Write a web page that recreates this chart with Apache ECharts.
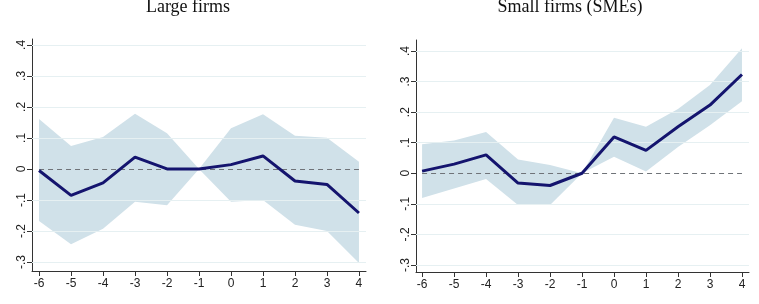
<!DOCTYPE html>
<html>
<head>
<meta charset="utf-8">
<script src="https://cdn.jsdelivr.net/npm/echarts@6/dist/echarts.min.js"></script>
<style>
  html, body { margin: 0; padding: 0; background: #fff; }
  #chart { width: 759px; height: 304px; }
</style>
</head>
<body>
<div id="chart"></div>
<script>
// event time (periods relative to treatment)
var periods = [-6, -5, -4, -3, -2, -1, 0, 1, 2, 3, 4];
var yTicks = [-0.3, -0.2, -0.1, 0, 0.1, 0.2, 0.3, 0.4];

// Large firms: point estimates and 95% CI
var largeCoef  = [-0.005, -0.085, -0.045, 0.038, 0.000, 0, 0.014, 0.042, -0.039, -0.050, -0.142];
var largeUpper = [0.161, 0.074, 0.103, 0.178, 0.115, 0, 0.131, 0.176, 0.107, 0.101, 0.023];
var largeLower = [-0.168, -0.243, -0.193, -0.106, -0.117, 0, -0.106, -0.100, -0.180, -0.200, -0.303];

// Small firms (SMEs)
var smallCoef  = [0.007, 0.030, 0.060, -0.032, -0.040, 0, 0.119, 0.075, 0.152, 0.223, 0.323];
var smallUpper = [0.095, 0.107, 0.135, 0.045, 0.027, 0, 0.182, 0.152, 0.210, 0.289, 0.409];
var smallLower = [-0.081, -0.050, -0.019, -0.104, -0.104, 0, 0.054, 0.006, 0.086, 0.157, 0.236];

var lineColor = '#14146e';
var bandColor = '#d0e1e9';

function pairs(ys) {
    return periods.map(function (x, i) { return [x, ys[i]]; });
}
function stataLabel(v) {
    if (Math.abs(v) < 1e-9) return '0';
    return (v < 0 ? '-' : '') + Math.abs(v).toFixed(1).replace(/^0/, '');
}

function xAxisFor(idx, min, max) {
    return {
        type: 'value', gridIndex: idx, min: min, max: max,
        axisLine: {show: true, onZero: false, lineStyle: {color: '#333', width: 1}},
        axisTick: {show: true, length: 5, customValues: periods, lineStyle: {color: '#333'}},
        axisLabel: {customValues: periods, color: '#222', fontSize: 12, margin: 7,
                    fontFamily: 'Liberation Sans'},
        splitLine: {show: false}
    };
}
function yAxisFor(idx, min, max) {
    return {
        type: 'value', gridIndex: idx, min: min, max: max,
        axisLine: {show: true, onZero: false, lineStyle: {color: '#333', width: 1}},
        axisTick: {show: true, length: 5, customValues: yTicks, lineStyle: {color: '#333'}},
        axisLabel: {customValues: yTicks, rotate: 90, color: '#222', fontSize: 12, margin: 4,
                    fontFamily: 'Liberation Sans', formatter: stataLabel},
        splitLine: {show: false}
    };
}
function gridLines(idx) {
    return {
        type: 'line', xAxisIndex: idx, yAxisIndex: idx, data: [], silent: true,
        markLine: {
            symbol: 'none', silent: true, animation: false, label: {show: false},
            lineStyle: {color: '#e6f0f2', type: 'solid', width: 1},
            data: yTicks.filter(function (t) { return t !== 0; }).map(function (t) { return {yAxis: t}; })
        }
    };
}
// confidence band: one polygon through upper points, back along lower points
function bandSeries(idx, upper, lower) {
    return {
        type: 'custom', xAxisIndex: idx, yAxisIndex: idx, silent: true, z: 1,
        data: periods.map(function (x, i) { return [x, lower[i], upper[i]]; }),
        renderItem: function (params, api) {
            if (params.dataIndex !== 0) return null;
            var top = [], bottom = [];
            for (var i = 0; i < periods.length; i++) {
                top.push(api.coord([periods[i], upper[i]]));
                bottom.unshift(api.coord([periods[i], lower[i]]));
            }
            return {
                type: 'polygon',
                shape: {points: top.concat(bottom)},
                style: {fill: bandColor}
            };
        },
        markLine: {
            symbol: 'none', silent: true, label: {show: false},
            lineStyle: {color: '#6f7378', type: [5, 4], width: 1},
            data: [[{coord: [periods[0], 0]}, {coord: [periods[periods.length - 1], 0]}]]
        }
    };
}
function panelSeries(idx, coef, upper, lower) {
    return [
        gridLines(idx),
        bandSeries(idx, upper, lower),
        {type: 'line', xAxisIndex: idx, yAxisIndex: idx, data: pairs(coef),
         symbol: 'none', lineStyle: {color: lineColor, width: 3}, z: 5}
    ];
}

var myChart = echarts.init(document.getElementById('chart'));
var option = {
    animation: false,
    backgroundColor: '#fff',
    title: [
        {text: 'Large firms', left: 188, top: -2, padding: 0, textAlign: 'center',
         textStyle: {fontFamily: 'Liberation Serif', fontWeight: 'normal', fontSize: 18, color: '#111'}},
        {text: 'Small firms (SMEs)', left: 570, top: -2, padding: 0, textAlign: 'center',
         textStyle: {fontFamily: 'Liberation Serif', fontWeight: 'normal', fontSize: 18, color: '#111'}}
    ],
    grid: [
        {left: 32, top: 39, width: 334, height: 232},
        {left: 416, top: 40, width: 333, height: 232}
    ],
    xAxis: [xAxisFor(0, -6.22, 4.22), xAxisFor(1, -6.19, 4.22)],
    yAxis: [yAxisFor(0, -0.329, 0.419), yAxisFor(1, -0.323, 0.436)],
    series: panelSeries(0, largeCoef, largeUpper, largeLower)
        .concat(panelSeries(1, smallCoef, smallUpper, smallLower))
};
myChart.setOption(option, true);
window.addEventListener('resize', function () {
    myChart.resize();
});
</script>
</body>
</html>
